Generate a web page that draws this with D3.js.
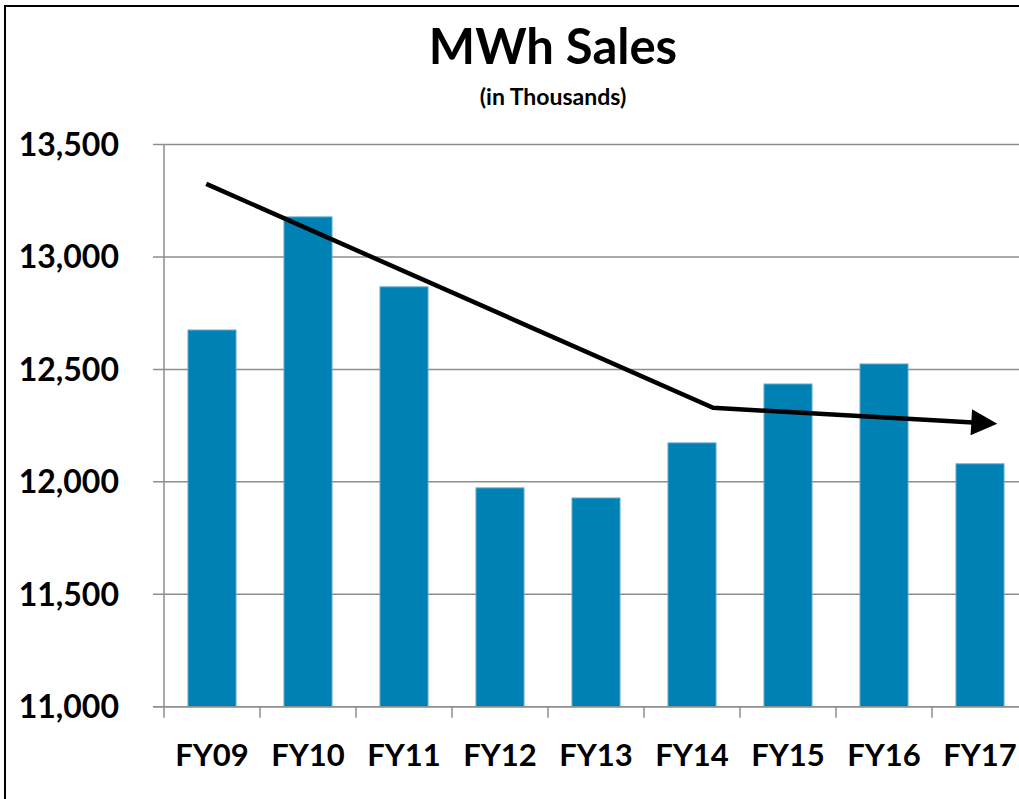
<!DOCTYPE html>
<html>
<head>
<meta charset="utf-8">
<script src="https://cdn.jsdelivr.net/npm/d3@7"></script>
<style>
  body { margin: 0; background: #fff; }
  text { font-family: Lato, "Open Sans", sans-serif; font-weight: bold; fill: #000; }
</style>
</head>
<body>
<div id="chart"></div>
<script>
var years = ["FY09","FY10","FY11","FY12","FY13","FY14","FY15","FY16","FY17"];
var sales = [12675, 13178, 12867, 11973, 11928, 12173, 12435, 12524, 12080];
var yTicks = [11000, 11500, 12000, 12500, 13000, 13500];
// trend arrow, drawn by hand on the original: position in category units, value
var trendIdx = [-0.06, 5.22, 8.18];
var trendVal = [13325, 12329, 12258];

var width = 1019,
    height = 799;
var plot = { left: 164, right: 1028, top: 144.5, bottom: 706.7 };

var svg = d3.select("#chart").append("svg")
    .attr("width", width)
    .attr("height", height);

// outer frame, runs off the right and bottom edge
svg.append("rect")
    .attr("x", 5)
    .attr("y", 6)
    .attr("width", 1100)
    .attr("height", 900)
    .attr("fill", "none")
    .attr("stroke", "#000")
    .attr("stroke-width", 2);

var x = d3.scaleBand()
    .domain(years)
    .range([plot.left, plot.right])
    .paddingInner(0.5)
    .paddingOuter(0.25);

var xIdx = d3.scaleLinear()
    .domain([-0.5, years.length - 0.5])
    .range([plot.left, plot.right]);

var y = d3.scaleLinear()
    .domain([11000, 13500])
    .range([plot.bottom, plot.top]);

// gridlines
svg.append("g")
    .selectAll("line")
    .data(yTicks)
    .enter().append("line")
    .attr("x1", plot.left - 11)
    .attr("x2", plot.right)
    .attr("y1", function(d) { return y(d); })
    .attr("y2", function(d) { return y(d); })
    .attr("stroke", "#8e8e8e")
    .attr("stroke-width", 1.5);

// y axis line
svg.append("line")
    .attr("x1", plot.left).attr("x2", plot.left)
    .attr("y1", plot.top).attr("y2", plot.bottom)
    .attr("stroke", "#8e8e8e")
    .attr("stroke-width", 1.5);

// x axis ticks between categories
var step = x.step();
svg.append("g")
    .selectAll("line")
    .data(d3.range(years.length + 1))
    .enter().append("line")
    .attr("x1", function(i) { return plot.left + i * step; })
    .attr("x2", function(i) { return plot.left + i * step; })
    .attr("y1", plot.bottom)
    .attr("y2", plot.bottom + 11)
    .attr("stroke", "#8e8e8e")
    .attr("stroke-width", 1.5);

// bars
svg.append("g")
    .selectAll("rect")
    .data(sales)
    .enter().append("rect")
    .attr("x", function(d, i) { return x(years[i]); })
    .attr("y", function(d) { return y(d); })
    .attr("width", x.bandwidth())
    .attr("height", function(d) { return plot.bottom - y(d); })
    .attr("fill", "#0081b4")
    .attr("stroke", "#5aa9d0")
    .attr("stroke-width", 1);

// redraw baseline over bars
svg.append("line")
    .attr("x1", plot.left - 11).attr("x2", plot.right)
    .attr("y1", plot.bottom).attr("y2", plot.bottom)
    .attr("stroke", "#8e8e8e")
    .attr("stroke-width", 1.5);

// y labels
svg.append("g")
    .selectAll("text")
    .data(yTicks)
    .enter().append("text")
    .attr("x", 119)
    .attr("y", function(d) { return y(d); })
    .attr("dy", "0.36em")
    .attr("text-anchor", "end")
    .style("font-size", "32px")
    .text(d3.format(","));

// x labels
svg.append("g")
    .selectAll("text")
    .data(years)
    .enter().append("text")
    .attr("x", function(d) { return x(d) + x.bandwidth() / 2; })
    .attr("y", 766)
    .attr("text-anchor", "middle")
    .style("font-size", "31px")
    .text(function(d) { return d; });

// trend arrow
var pts = trendIdx.map(function(d, i) { return [xIdx(d), y(trendVal[i])]; });
var tip = pts[pts.length - 1];
var prev = pts[pts.length - 2];
var ang = Math.atan2(tip[1] - prev[1], tip[0] - prev[0]);
var headLen = 26, headHalf = 13;
var base = [tip[0] - headLen * Math.cos(ang), tip[1] - headLen * Math.sin(ang)];
var linePts = pts.slice(0, -1).concat([[base[0] + 2 * Math.cos(ang), base[1] + 2 * Math.sin(ang)]]);

svg.append("path")
    .attr("d", d3.line()(linePts))
    .attr("fill", "none")
    .attr("stroke", "#000")
    .attr("stroke-width", 4.5);

svg.append("path")
    .attr("d", d3.line()([
        tip,
        [base[0] + headHalf * Math.sin(ang), base[1] - headHalf * Math.cos(ang)],
        [base[0] - headHalf * Math.sin(ang), base[1] + headHalf * Math.cos(ang)]
    ]) + "Z")
    .attr("fill", "#000");

// titles
svg.append("text")
    .attr("x", 553)
    .attr("y", 64)
    .attr("text-anchor", "middle")
    .style("font-size", "49px")
    .text("MWh Sales");

svg.append("text")
    .attr("x", 553)
    .attr("y", 105)
    .attr("text-anchor", "middle")
    .style("font-size", "23px")
    .text("(in Thousands)");
</script>
</body>
</html>
